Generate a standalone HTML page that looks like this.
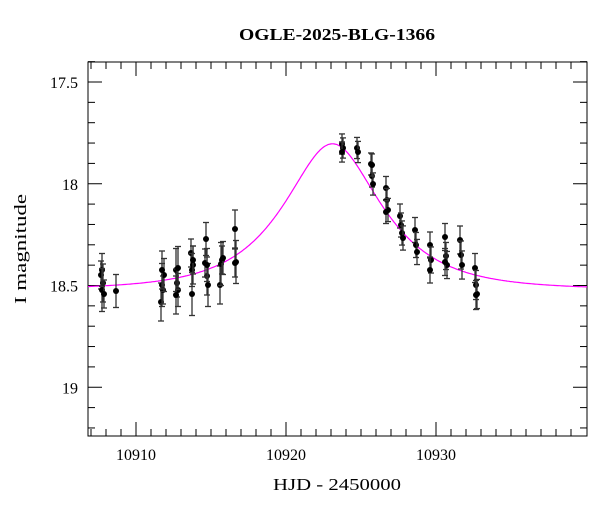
<!DOCTYPE html>
<html><head><meta charset="utf-8"><style>
body{margin:0;background:#fff}
svg text{font-family:"Liberation Serif",serif;fill:#000}
</style></head><body>
<svg id="s" width="600" height="512" xmlns="http://www.w3.org/2000/svg">
<rect x="88" y="62" width="499" height="374" fill="none" stroke="#000" stroke-width="1"/>
<text x="337" y="40" font-size="17" text-anchor="middle" font-weight="bold" textLength="196" lengthAdjust="spacingAndGlyphs">OGLE-2025-BLG-1366</text>
<text x="337" y="490" font-size="17" text-anchor="middle" textLength="128" lengthAdjust="spacingAndGlyphs">HJD - 2450000</text>
<text transform="translate(26,249) rotate(-90)" font-size="17" text-anchor="middle" textLength="110" lengthAdjust="spacingAndGlyphs">I magnitude</text>
<g id="g"></g>
</svg>
<script>
var g=document.getElementById('g'),h='';
function X(t){return 136+(t-10910)*15}
function Y(m){return 82+(m-17.5)*203.5}
for(var t=10907;t<=10939;t++){var x=X(t),L=(t%10==0)?14:7;
h+='<line x1="'+x+'" y1="436" x2="'+x+'" y2="'+(436-L)+'" stroke="#000"/>';
h+='<line x1="'+x+'" y1="62" x2="'+x+'" y2="'+(62+L)+'" stroke="#000"/>';
if(t%10==0)h+='<text x="'+x+'" y="460" font-size="16" text-anchor="middle">'+t+'</text>';}
for(var i=0;i<=18;i++){var m=17.4+i*0.1,y=Y(m),maj=Math.abs(m*2-Math.round(m*2))<1e-6,L=maj?14:7;
h+='<line x1="88" y1="'+y+'" x2="'+(88+L)+'" y2="'+y+'" stroke="#000"/>';
h+='<line x1="587" y1="'+y+'" x2="'+(587-L)+'" y2="'+y+'" stroke="#000"/>';
if(maj){var lab=(Math.round(m*10)/10).toString();h+='<text x="78" y="'+(y+6)+'" font-size="16" text-anchor="end">'+lab+'</text>';}}
var p=[];for(var x=88;x<=587;x+=1){var t=10910+(x-136)/15,u0=0.58,tE=5.2,t0=10923.1;
var u=Math.sqrt(u0*u0+Math.pow((t-t0)/tE,2)),A=(u*u+2)/(u*Math.sqrt(u*u+4));
var m=18.52-2.5*Math.log10(A);p.push(x+','+Y(m).toFixed(1));}
h+='<polyline points="'+p.join(' ')+'" fill="none" stroke="#ff00ff" stroke-width="1.2"/>';
var d=[[101,275],[102,270],[103,283],[102,290],[104,294],[116,291],
[161,302],[162,285],[163,290],[164,275],[162,270],[176,270],[177,283],[178,290],[176,295],[178,268],
[191,253],[192,270],[193,265],[192,294],[193,260],[206,239],[207,276],[208,285],[205,263],[207,265],
[220,285],[221,264],[222,260],[223,258],[235,229],[236,262],[235,263],
[342,144],[343,148],[342,152],[357,148],[358,152],[371,164],[372,176],[373,184],[372,165],
[386,188],[387,200],[388,210],[386,212],[400,216],[401,225],[402,233],[403,238],
[415,230],[416,245],[417,252],[430,245],[431,260],[430,270],[445,237],[446,256],[447,265],[445,262],
[460,240],[461,255],[462,265],[475,268],[476,285],[477,294],[476,295]];
d.forEach(function(q,i){var e=(q[0]<250?14+(i%4)*2.5:10+(q[0]-340)/30);
h+='<g stroke="#333" stroke-width="1.3"><line x1="'+q[0]+'" y1="'+(q[1]-e)+'" x2="'+q[0]+'" y2="'+(q[1]+e)+'"/><line x1="'+(q[0]-3)+'" y1="'+(q[1]-e)+'" x2="'+(q[0]+3)+'" y2="'+(q[1]-e)+'"/><line x1="'+(q[0]-3)+'" y1="'+(q[1]+e)+'" x2="'+(q[0]+3)+'" y2="'+(q[1]+e)+'"/></g><circle cx="'+q[0]+'" cy="'+q[1]+'" r="3" fill="#000"/>';});
g.innerHTML=h;
</script>
</body></html>
